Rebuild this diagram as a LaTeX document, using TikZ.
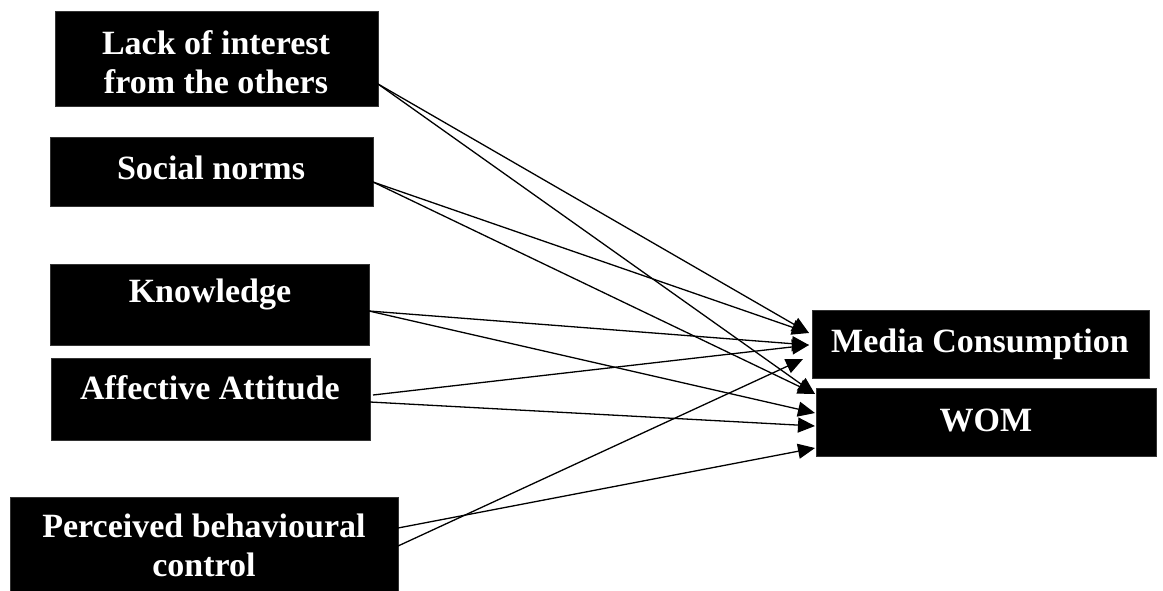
\documentclass[tikz,border=0pt]{standalone}
\usepackage{fontspec}
\setmainfont{Liberation Serif}
\usetikzlibrary{arrows.meta}
\begin{document}
\begin{tikzpicture}[x=1pt,y=-1pt,
  box/.style={fill=black,draw=black!80,line width=0.6pt,inner sep=0pt,outer sep=0pt},
  lbl/.style={text=white,font=\fontsize{34}{39}\selectfont\bfseries,align=center,inner sep=0pt},
  link/.style={line width=1.3pt,-{Triangle[length=17pt,width=15pt]}}]
\useasboundingbox (0,0) rectangle (1163,590);
\begin{scope}
\clip (0,0) rectangle (1163,590);
\node[box,minimum width=323pt,minimum height=95pt] (lack) at (216.5,58.5) {};
\node[box,minimum width=323pt,minimum height=69pt] (soc) at (211.5,171.5) {};
\node[box,minimum width=319pt,minimum height=81pt] (know) at (209.5,304.5) {};
\node[box,minimum width=319pt,minimum height=82pt] (aff) at (210.5,399) {};
\node[box,minimum width=388pt,minimum height=103pt] (pbc) at (204,548.5) {};
\node[box,minimum width=337pt,minimum height=68pt] (media) at (980.5,344) {};
\node[box,minimum width=340pt,minimum height=68pt] (wom) at (986,422) {};
\end{scope}
\node[lbl] (lackt) at (216,62) {Lack of interest\\from the others};
\node[lbl] (soct) at (211,168) {Social norms};
\node[lbl] (knowt) at (210,294) {Knowledge};
\node[lbl] (afft) at (210,388) {Affective Attitude};
\node[lbl] (pbct) at (204,545) {Perceived behavioural\\control};
\node[lbl] (mediat) at (980,344) {Media Consumption};
\node[lbl] (womt) at (986,420) {WOM};
% Lack of interest
\draw[link] ([yshift=-25.5pt]lack.east) -- ([xshift=-3pt,yshift=11pt]media.west);
\draw[link] ([yshift=-25.5pt]lack.east) -- ([xshift=-1pt,yshift=28pt]wom.west);
% Social norms
\draw[link] ([yshift=-10.5pt]soc.east) -- ([xshift=-3pt,yshift=11pt]media.west);
\draw[link] ([yshift=-10.5pt]soc.east) -- ([xshift=-1pt,yshift=28pt]wom.west);
% Knowledge
\draw[link] ([yshift=-6.5pt]know.east) -- ([xshift=-3pt,yshift=-1pt]media.west);
\draw[link] ([yshift=-6.5pt]know.east) -- ([xshift=-1pt,yshift=9pt]wom.west);
% Affective attitude
\draw[link] ([xshift=3pt,yshift=4pt]aff.east) -- ([xshift=-3pt,yshift=-1pt]media.west);
\draw[link] ([yshift=-3pt]aff.east) -- ([xshift=-1pt,yshift=-4pt]wom.west);
% Perceived behavioural control
\draw[link] ([yshift=20.5pt]pbc.east) -- ([xshift=-1pt,yshift=-26pt]wom.west);
\draw[link] ([yshift=2.5pt]pbc.east) -- ([xshift=-9pt,yshift=-15pt]media.west);
\end{tikzpicture}
\end{document}
